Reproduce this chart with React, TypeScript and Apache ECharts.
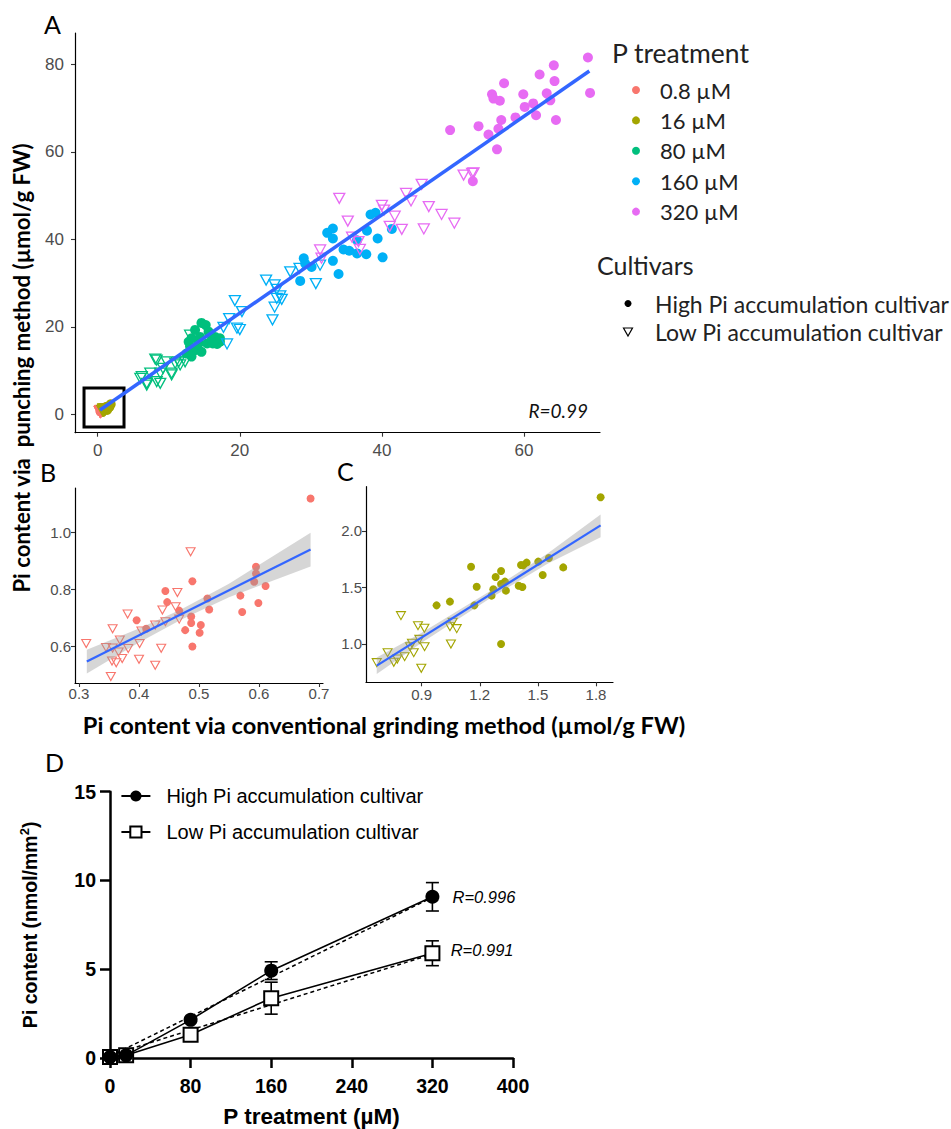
import React, { useEffect, useRef } from "react";
import * as echarts from "echarts";

// ---------- Panel A / B / C data : [grinding method, punching method] (µmol/g FW) ----------
const treatments = ["0.8 µM", "16 µM", "80 µM", "160 µM", "320 µM"];
const treatmentColors = ["#F8766D", "#A3A500", "#00BF7D", "#00B0F6", "#E76BF3"];
const cultivars = ["High Pi accumulation cultivar", "Low Pi accumulation cultivar"];

const p08High = [[0.686,1.121],[0.595,0.880],[0.595,0.856],[0.592,0.827],[0.611,0.812],[0.569,0.778],[0.599,0.752],[0.572,0.720],[0.489,0.829],[0.444,0.794],[0.447,0.755],[0.514,0.768],[0.517,0.729],[0.467,0.725],[0.487,0.704],[0.487,0.681],[0.503,0.674],[0.477,0.656],[0.501,0.647],[0.489,0.598],[0.396,0.691],[0.412,0.661]];
const p08Low = [[0.486,0.933],[0.464,0.789],[0.461,0.739],[0.439,0.727],[0.467,0.695],[0.444,0.686],[0.427,0.674],[0.404,0.653],[0.381,0.713],[0.356,0.661],[0.368,0.621],[0.401,0.609],[0.382,0.591],[0.345,0.595],[0.312,0.609],[0.356,0.593],[0.366,0.579],[0.437,0.592],[0.372,0.556],[0.355,0.547],[0.362,0.541],[0.400,0.553],[0.427,0.532],[0.353,0.492]];
const p16High = [[1.824,2.298],[1.502,1.729],[1.442,1.720],[1.413,1.699],[1.425,1.696],[1.631,1.678],[1.525,1.611],[1.155,1.684],[1.310,1.646],[1.282,1.593],[1.330,1.552],[1.310,1.531],[1.184,1.507],[1.401,1.516],[1.420,1.504],[1.335,1.472],[1.270,1.484],[1.261,1.428],[1.172,1.342],[0.977,1.342],[1.046,1.375],[1.310,1.000],[1.557,1.761]];
const p16Low = [[0.793,1.251],[0.881,1.162],[0.914,1.139],[1.060,1.192],[1.046,1.153],[1.081,1.136],[1.051,1.000],[0.915,0.976],[0.850,1.006],[0.859,0.923],[0.812,0.888],[0.774,0.867],[0.756,0.838],[0.724,0.923],[0.668,0.835],[0.898,0.785],[0.888,1.041],[0.840,0.976]];
const p80High = [[14.6,20.9],[15.2,20.4],[13.7,19.3],[15.6,18.9],[16.5,17.7],[17.2,16.6],[13.2,17.4],[12.8,16.6],[14.2,16.2],[15.4,16.2],[13.7,14.7],[12.5,13.9],[14.6,14.3],[13.2,13.2],[16.1,17.4],[14.4,17.7],[16.8,16.1],[13.0,15.5],[17.2,17.4],[16.2,16.2]];
const p80Low = [[8.1,12.6],[9.7,12.0],[10.9,11.7],[6.2,8.6],[7.4,9.4],[6.9,7.1],[8.3,7.5],[8.8,9.4],[10.4,9.0],[9.2,10.5],[11.6,11.3],[12.3,12.0],[6.0,8.2],[8.3,12.4],[10.4,9.4],[6.9,6.7],[8.8,7.1],[11.4,12.0],[13.0,18.1]];
const p160High = [[38.4,45.7],[39.1,46.1],[33.1,42.5],[32.3,41.5],[33.1,40.2],[37.9,42.0],[39.4,40.2],[41.4,42.4],[34.6,37.7],[35.4,37.4],[36.5,36.8],[37.8,36.6],[40.1,35.9],[33.1,35.1],[29.0,35.7],[30.1,33.7],[33.9,32.1],[28.5,30.5],[36.5,39.8],[29.2,34.5]];
const p160Low = [[23.7,30.7],[24.9,29.6],[25.2,28.6],[25.2,26.5],[25.9,26.3],[24.9,24.5],[24.6,21.6],[27.1,32.6],[28.4,33.4],[19.3,26.0],[20.3,23.5],[18.5,21.9],[19.6,19.7],[20.0,19.4],[18.2,16.1],[17.7,19.9],[30.7,29.9],[31.3,34.1],[25.7,27.1]];
const p320High = [[69.0,81.6],[64.2,79.8],[62.2,77.7],[64.3,76.2],[69.3,73.5],[57.2,75.7],[55.5,73.2],[55.7,72.2],[56.6,71.7],[59.9,73.2],[63.2,73.4],[63.7,71.8],[60.1,70.3],[61.3,71.1],[61.7,68.4],[58.8,67.9],[56.8,67.3],[64.5,67.3],[53.6,65.9],[49.6,65.0],[56.4,65.3],[55.0,64.0],[56.2,60.6],[52.8,53.3]];
const p320Low = [[51.5,54.7],[52.7,55.1],[52.9,55.2],[34.0,49.4],[45.6,52.6],[43.4,50.5],[44.1,48.8],[40.0,47.8],[40.3,46.7],[46.6,47.5],[41.8,45.3],[48.4,45.7],[50.2,43.7],[35.2,44.2],[42.8,42.3],[45.9,42.4],[41.1,43.0],[35.8,40.5],[36.7,39.5],[36.9,37.7],[31.3,37.6],[31.5,35.7]];

const highByTreatment = [p08High, p16High, p80High, p160High, p320High];
const lowByTreatment = [p08Low, p16Low, p80Low, p160Low, p320Low];

// linear fits: [x, y] end points
const fitA = [[0.32, 0.98], [69.2, 78.5]];
const boxA = [[-1.93, -2.9], [3.7, 6.0]];
const fitB = [[0.313, 0.545], [0.686, 0.941]];
const bandBx = [0.313, 0.40, 0.47, 0.55, 0.686];
const bandBlo = [0.503, 0.612, 0.693, 0.772, 0.881];
const bandBhi = [0.587, 0.662, 0.729, 0.820, 1.000];
const fitC = [[0.668, 0.808], [1.824, 2.05]];
const bandCx = [0.668, 0.9, 1.25, 1.55, 1.824];
const bandClo = [0.735, 1.01, 1.40, 1.71, 1.945];
const bandChi = [0.88, 1.10, 1.465, 1.80, 2.145];

// tick labels
const ticksAx = [0, 20, 40, 60];
const ticksAy = [0, 20, 40, 60, 80];
const ticksBx = [0.3, 0.4, 0.5, 0.6, 0.7];
const ticksBy = [0.6, 0.8, 1.0];
const ticksCx = [0.9, 1.2, 1.5, 1.8];
const ticksCy = [1.0, 1.5, 2.0];

// ---------- Panel D data ----------
const dTreatments = [0, 16, 80, 160, 320];
const dHighMean = [0.05, 0.15, 2.15, 4.92, 9.08];
const dHighErr = [0.05, 0.05, 0.1, 0.5, 0.8];
const dLowMean = [0.05, 0.15, 1.31, 3.37, 5.9];
const dLowErr = [0.05, 0.05, 0.1, 0.9, 0.7];
const dHighFit = [[0, 0.1], [320, 9.05]];
const dLowFit = [[0, 0.15], [320, 5.85]];
const dHighR = "R=0.996";
const dLowR = "R=0.991";

const TRI_DOWN = "path://M0,0L10,0L5,9Z";

function ggAxis(gridIndex: number, min: number, max: number, ticks: number[], fontSize: number, margin: number, digits: number) {
  return {
    type: "value",
    gridIndex,
    min,
    max,
    splitLine: { show: false },
    axisLine: { show: true, onZero: false, lineStyle: { color: "#000", width: 1.2 } },
    axisTick: { show: true, customValues: ticks, length: 4, lineStyle: { color: "#333", width: 1.1 } },
    axisLabel: {
      customValues: ticks,
      color: "#4D4D4D",
      fontSize,
      fontFamily: "Liberation Sans",
      margin,
      formatter: (v: number) => v.toFixed(digits),
    },
  };
}

function bandSeries(xi: number, xs: number[], lo: number[], hi: number[]) {
  return {
    type: "custom",
    xAxisIndex: xi,
    yAxisIndex: xi,
    z: 4,
    silent: true,
    data: xs.map((x, i) => [x, lo[i], hi[i]]),
    encode: { x: 0, y: [1, 2] },
    renderItem: (params: any, api: any) => {
      if (params.dataIndex !== 0) return null;
      const pts: number[][] = [];
      xs.forEach((x, i) => pts.push(api.coord([x, lo[i]])));
      for (let i = xs.length - 1; i >= 0; i--) pts.push(api.coord([xs[i], hi[i]]));
      return {
        type: "polygon",
        shape: { points: pts },
        style: { fill: "rgba(153,153,153,0.4)", stroke: "none" },
      };
    },
  };
}

function errSeries(means: number[], errs: number[]) {
  return {
    type: "custom",
    xAxisIndex: 3,
    yAxisIndex: 3,
    z: 2,
    silent: true,
    data: dTreatments.map((x, i) => [x, means[i] - errs[i], means[i] + errs[i]]),
    encode: { x: 0, y: [1, 2] },
    renderItem: (params: any, api: any) => {
      const x = api.value(0);
      const top = api.coord([x, api.value(2)]);
      const bot = api.coord([x, api.value(1)]);
      const w = 6.5;
      const st = { stroke: "#000", lineWidth: 1.6 };
      return {
        type: "group",
        children: [
          { type: "line", shape: { x1: top[0], y1: top[1], x2: bot[0], y2: bot[1] }, style: st },
          { type: "line", shape: { x1: top[0] - w, y1: top[1], x2: top[0] + w, y2: top[1] }, style: st },
          { type: "line", shape: { x1: bot[0] - w, y1: bot[1], x2: bot[0] + w, y2: bot[1] }, style: st },
        ],
      };
    },
  };
}

function txt(x: number, y: number, text: string, opts: any = {}) {
  const align = opts.align || "left";
  return {
    type: "text",
    x,
    y,
    rotation: opts.rotation || 0,
    silent: true,
    style: {
      text,
      fill: opts.fill || "#000",
      fontSize: opts.fontSize || 20,
      fontFamily: opts.fontFamily || "Lato",
      fontWeight: opts.fontWeight || "normal",
      fontStyle: opts.fontStyle || "normal",
      align,
      verticalAlign: "middle",
      textAlign: align,
      textVerticalAlign: "middle",
    },
  };
}

function buildOption() {
  const series: any[] = [];
  // Panel A
  treatments.forEach((t, i) => {
    series.push({
      type: "scatter", name: "A " + t + " high", xAxisIndex: 0, yAxisIndex: 0,
      data: highByTreatment[i], symbol: "circle", symbolSize: 10,
      itemStyle: { color: treatmentColors[i], opacity: 1 },
    });
    series.push({
      type: "scatter", name: "A " + t + " low", xAxisIndex: 0, yAxisIndex: 0,
      data: lowByTreatment[i], symbol: TRI_DOWN, symbolSize: [11, 10],
      itemStyle: { color: "rgba(0,0,0,0)", borderColor: treatmentColors[i], borderWidth: 1.3, opacity: 1 },
    });
  });
  series.push({
    type: "line", name: "A fit", xAxisIndex: 0, yAxisIndex: 0, data: fitA, symbol: "none", z: 5,
    lineStyle: { color: "#3366FF", width: 3.5 },
    markArea: {
      silent: true,
      itemStyle: { color: "rgba(0,0,0,0)", borderColor: "#000", borderWidth: 3 },
      data: [[{ coord: boxA[0] }, { coord: boxA[1] }]],
    },
  });
  // Panel B
  series.push({ type: "scatter", name: "B high", xAxisIndex: 1, yAxisIndex: 1, data: p08High, symbol: "circle", symbolSize: 8, itemStyle: { color: treatmentColors[0], opacity: 1 } });
  series.push({ type: "scatter", name: "B low", xAxisIndex: 1, yAxisIndex: 1, data: p08Low, symbol: TRI_DOWN, symbolSize: [9, 8], itemStyle: { color: "rgba(0,0,0,0)", borderColor: treatmentColors[0], borderWidth: 1.1, opacity: 1 } });
  series.push(bandSeries(1, bandBx, bandBlo, bandBhi));
  series.push({ type: "line", name: "B fit", xAxisIndex: 1, yAxisIndex: 1, data: fitB, symbol: "none", z: 5, lineStyle: { color: "#3366FF", width: 2.2 } });
  // Panel C
  series.push({ type: "scatter", name: "C high", xAxisIndex: 2, yAxisIndex: 2, data: p16High, symbol: "circle", symbolSize: 8, itemStyle: { color: treatmentColors[1], opacity: 1 } });
  series.push({ type: "scatter", name: "C low", xAxisIndex: 2, yAxisIndex: 2, data: p16Low, symbol: TRI_DOWN, symbolSize: [9, 8], itemStyle: { color: "rgba(0,0,0,0)", borderColor: treatmentColors[1], borderWidth: 1.1, opacity: 1 } });
  series.push(bandSeries(2, bandCx, bandClo, bandChi));
  series.push({ type: "line", name: "C fit", xAxisIndex: 2, yAxisIndex: 2, data: fitC, symbol: "none", z: 5, lineStyle: { color: "#3366FF", width: 2.2 } });
  // Panel D
  series.push(errSeries(dHighMean, dHighErr));
  series.push(errSeries(dLowMean, dLowErr));
  series.push({ type: "line", name: "high fit", xAxisIndex: 3, yAxisIndex: 3, data: dHighFit, symbol: "none", z: 2, lineStyle: { color: "#000", width: 1.5, type: [4, 3] } });
  series.push({ type: "line", name: "low fit", xAxisIndex: 3, yAxisIndex: 3, data: dLowFit, symbol: "none", z: 2, lineStyle: { color: "#000", width: 1.5, type: [4, 3] } });
  series.push({
    type: "line", name: cultivars[0], xAxisIndex: 3, yAxisIndex: 3, z: 4,
    data: dTreatments.map((x, i) => [x, dHighMean[i]]),
    symbol: "circle", symbolSize: 14, lineStyle: { color: "#000", width: 1.6 },
    itemStyle: { color: "#000" },
  });
  series.push({
    type: "line", name: cultivars[1], xAxisIndex: 3, yAxisIndex: 3, z: 3,
    data: dTreatments.map((x, i) => [x, dLowMean[i]]),
    symbol: "rect", symbolSize: 14, lineStyle: { color: "#000", width: 1.6 },
    itemStyle: { color: "#fff", borderColor: "#000", borderWidth: 2 },
  });

  const legendRowsY = [90, 120.4, 150.8, 181.2, 211.6];
  const graphic: any[] = [
    txt(44, 24, "A", { fontSize: 25 }),
    txt(40, 472, "B", { fontSize: 25 }),
    txt(337, 471, "C", { fontSize: 25 }),
    txt(45, 762, "D", { fontSize: 25 }),
    txt(612, 53, "P treatment", { fontSize: 26.5, fill: "#222" }),
    txt(597, 265, "Cultivars", { fontSize: 25, fill: "#222" }),
    txt(588, 410, "R=0.99", { fontSize: 19, fontStyle: "italic", align: "right", fill: "#111" }),
    txt(21, 368, "Pi content via  punching method (µmol/g FW)", { fontSize: 22.2, fontWeight: "bold", align: "center", rotation: Math.PI / 2 }),
    txt(384, 725, "Pi content via conventional grinding method (µmol/g FW)", { fontSize: 23.6, fontWeight: "bold", align: "center" }),
    txt(452.5, 897, dHighR, { fontSize: 16.5, fontStyle: "italic", fontFamily: "Liberation Sans" }),
    txt(450.7, 950, dLowR, { fontSize: 16.5, fontStyle: "italic", fontFamily: "Liberation Sans" }),
    { type: "circle", silent: true, shape: { cx: 628, cy: 303.5, r: 3.5 }, style: { fill: "#000" } },
    { type: "polygon", silent: true, shape: { points: [[623.5, 328], [632.5, 328], [628, 336]] }, style: { fill: "none", stroke: "#000", lineWidth: 1.2 } },
    txt(655, 303.5, cultivars[0], { fontSize: 23, fill: "#222" }),
    txt(655, 332, cultivars[1], { fontSize: 23, fill: "#222" }),
  ];
  treatments.forEach((t, i) => {
    graphic.push({ type: "circle", silent: true, shape: { cx: 636, cy: legendRowsY[i], r: 4 }, style: { fill: treatmentColors[i] } });
    graphic.push(txt(660, legendRowsY[i], t, { fontSize: 22, fill: "#222" }));
  });

  const dAxisLine = { show: true, onZero: false, lineStyle: { color: "#000", width: 2.5 } };
  const dTick = { show: true, length: 10, lineStyle: { color: "#000", width: 2.5 } };

  return {
    animation: false,
    backgroundColor: "#fff",
    grid: [
      { left: 75, top: 33, width: 525, height: 399.7 },
      { left: 75, top: 488, width: 248, height: 195 },
      { left: 366, top: 486.7, width: 247, height: 195.6 },
      { left: 110, top: 791.7, width: 403, height: 266.6 },
    ],
    xAxis: [
      ggAxis(0, -3.2, 70.7, ticksAx, 17, 9, 0),
      ggAxis(1, 0.2933, 0.7067, ticksBx, 15, 3, 1),
      ggAxis(2, 0.6125, 1.888, ticksCx, 15, 5, 1),
      {
        type: "value", gridIndex: 3, min: 0, max: 400, interval: 80,
        splitLine: { show: false }, axisLine: dAxisLine, axisTick: dTick,
        axisLabel: { color: "#000", fontSize: 19.5, fontWeight: "bold", fontFamily: "Liberation Sans", margin: 18 },
        name: "P treatment (µM)", nameLocation: "middle", nameGap: 47,
        nameTextStyle: { color: "#000", fontSize: 22.5, fontWeight: "bold", fontFamily: "Liberation Sans" },
      },
    ],
    yAxis: [
      ggAxis(0, -4.2, 87.2, ticksAy, 17, 11, 0),
      ggAxis(1, 0.4694, 1.158, ticksBy, 15, 4, 1),
      ggAxis(2, 0.661, 2.392, ticksCy, 15, 4, 1),
      {
        type: "value", gridIndex: 3, min: 0, max: 15, interval: 5,
        splitLine: { show: false }, axisLine: dAxisLine, axisTick: dTick,
        axisLabel: { color: "#000", fontSize: 19.5, fontWeight: "bold", fontFamily: "Liberation Sans", margin: 14 },
        name: "Pi content (nmol/mm{sup|2})", nameLocation: "middle", nameGap: 68, nameRotate: 90,
        nameTextStyle: {
          color: "#000", fontSize: 19.5, fontWeight: "bold", fontFamily: "Liberation Sans", lineHeight: 24,
          rich: {
            sup: { color: "#000", fontSize: 13, fontWeight: "bold", fontFamily: "Liberation Sans", verticalAlign: "top", lineHeight: 13 },
          },
        },
      },
    ],
    legend: [
      {
        data: cultivars,
        left: 115.4, top: 781, orient: "vertical",
        itemWidth: 29, itemHeight: 14, itemGap: 16,
        textStyle: { fontSize: 20, fontFamily: "Liberation Sans", color: "#000", padding: [0, 0, 0, 11] },
        selectedMode: false,
      },
    ],
    graphic,
    series,
  };
}

export default function App() {
  const ref = useRef<HTMLDivElement>(null);
  useEffect(() => {
    if (!ref.current) return;
    const chart = echarts.init(ref.current, null, { renderer: "svg" });
    chart.setOption(buildOption() as any);
    return () => chart.dispose();
  }, []);
  return (
    <div
      ref={ref}
      style={{ position: "absolute", left: 0, top: 0, width: 951, height: 1129, background: "#fff" }}
    />
  );
}
